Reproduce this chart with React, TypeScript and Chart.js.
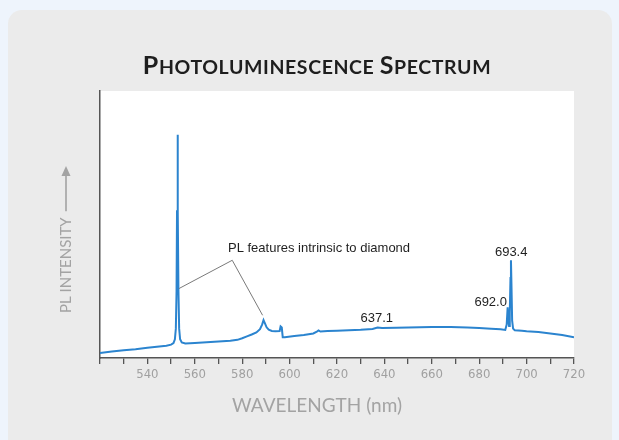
import React, { useEffect, useRef } from "react";
import { Chart, registerables } from "chart.js";

Chart.register(...registerables);

// ---- data ----
const wavelengths = [
  520, 525, 530, 535, 540, 545, 548, 550, 551, 551.6, 552.0, 552.3, 552.5, 552.7, 552.9, 553.1, 553.4,
  553.8, 554.5, 556, 560, 565, 570, 575, 578, 580, 582, 584, 586, 587.5, 588.4, 589, 589.6, 590.3,
  591.2, 592.5, 594, 595.8, 596.2, 596.7, 597.1, 598, 602, 606, 610, 611.5, 612.2, 613, 616, 620,
  625, 630, 635, 637.1, 639, 645, 650, 660, 668, 675, 680, 685, 689, 691.0, 691.6, 692.0, 692.35,
  692.6, 692.9, 693.2, 693.4, 693.6, 693.9, 694.3, 695, 698, 700, 705, 710, 715, 720,
];
const intensities = [
  1.9, 2.4, 2.9, 3.3, 3.8, 4.3, 4.6, 5.0, 5.6, 7.0, 11, 25, 55, 83.6, 55, 25, 11,
  7.0, 5.8, 5.4, 5.6, 5.9, 6.2, 6.5, 6.8, 7.4, 8.1, 8.8, 9.6, 10.8, 12.5, 14.2, 13.0, 11.5,
  10.6, 10.1, 10.0, 10.1, 11.8, 11.4, 7.8, 7.8, 8.2, 8.6, 9.2, 9.9, 10.3, 9.9, 10.1, 10.2,
  10.4, 10.6, 10.9, 11.4, 11.2, 11.3, 11.4, 11.6, 11.6, 11.4, 11.2, 11.0, 10.8, 10.5, 12.5, 19.0, 14,
  12, 17, 30, 36.6, 28, 14, 11.0, 10.4, 10.2, 10.0, 9.7, 9.2, 8.6, 7.8,
];

const xMin = 520;
const xMax = 720;
const xStep = 10;
const xLabelStep = 20;
const yMin = 0;
const yMax = 100;

const titleText = "Photoluminescence Spectrum";
const xTitle = "WAVELENGTH (nm)";
const yTitle = "PL INTENSITY";
const featureText = "PL features intrinsic to diamond";
// leader line vertices in data units (wavelength, intensity)
const leaderX = [553.3, 575.8, 588.6];
const leaderY = [26, 36.6, 16];
const featureAnchor = [574.0, 41];
const peakNames = ["637.1", "692.0", "693.4"];
const peakLabelX = [636.8, 691.7, 693.5];
const peakLabelY = [15, 21, 39.6];
const peakAlign: CanvasTextAlign[] = ["center", "right", "center"];

function drawSmallCaps(ctx: CanvasRenderingContext2D, text: string, cx: number, baseline: number, big: number, small: number, family: string, spacing: number) {
  const parts: { t: string; f: string }[] = [];
  text.split(" ").forEach((word, i, arr) => {
    parts.push({ t: word[0].toUpperCase(), f: `bold ${big}px ${family}` });
    const rest = word.slice(1).toUpperCase() + (i < arr.length - 1 ? " " : "");
    parts.push({ t: rest, f: `bold ${small}px ${family}` });
  });
  (ctx as any).letterSpacing = `${spacing}px`;
  let total = 0;
  parts.forEach((p) => {
    ctx.font = p.f;
    total += ctx.measureText(p.t).width;
  });
  let x = cx - total / 2;
  ctx.textAlign = "left";
  ctx.textBaseline = "alphabetic";
  parts.forEach((p) => {
    ctx.font = p.f;
    ctx.fillText(p.t, x, baseline);
    x += ctx.measureText(p.t).width;
  });
  (ctx as any).letterSpacing = "0px";
}

const decorPlugin = {
  id: "decor",
  beforeDraw(chart: any) {
    const { ctx, chartArea } = chart;
    ctx.save();
    ctx.fillStyle = "#ffffff";
    ctx.fillRect(chartArea.left, chartArea.top, chartArea.right - chartArea.left, chartArea.bottom - chartArea.top);
    ctx.restore();
  },
  afterDraw(chart: any) {
    const { ctx, scales } = chart;
    const xs = scales.x;
    const ys = scales.y;
    ctx.save();
    // title
    ctx.fillStyle = "#1e1e1e";
    drawSmallCaps(ctx, titleText, 317, 74, 25, 19.5, "Lato, 'DejaVu Sans', sans-serif", 0.6);

    // x axis title
    ctx.fillStyle = "#a3a3a3";
    ctx.font = "19px Lato, sans-serif";
    ctx.textAlign = "center";
    ctx.textBaseline = "middle";
    ctx.fillText(xTitle, 317, 406);

    // y axis title with arrow
    ctx.save();
    ctx.translate(66, 313);
    ctx.rotate(-Math.PI / 2);
    ctx.font = "15px Lato, sans-serif";
    ctx.textAlign = "left";
    ctx.textBaseline = "middle";
    ctx.fillText(yTitle, 0, 0);
    const w = ctx.measureText(yTitle).width;
    ctx.strokeStyle = "#a3a3a3";
    ctx.lineWidth = 1.6;
    ctx.beginPath();
    ctx.moveTo(w + 6, 0);
    ctx.lineTo(142, 0);
    ctx.stroke();
    ctx.beginPath();
    ctx.moveTo(147, 0);
    ctx.lineTo(137, -4.5);
    ctx.lineTo(137, 4.5);
    ctx.closePath();
    ctx.fillStyle = "#a3a3a3";
    ctx.fill();
    ctx.restore();

    // leader lines
    ctx.strokeStyle = "#7a7a7a";
    ctx.lineWidth = 1;
    ctx.beginPath();
    leaderX.forEach((lx, i) => {
      const px = xs.getPixelForValue(lx);
      const py = ys.getPixelForValue(leaderY[i]);
      if (i === 0) ctx.moveTo(px, py);
      else ctx.lineTo(px, py);
    });
    ctx.stroke();

    ctx.fillStyle = "#1f1f1f";
    ctx.font = "13px 'Liberation Sans', Arial, sans-serif";
    ctx.textAlign = "left";
    ctx.textBaseline = "middle";
    ctx.fillText(featureText, xs.getPixelForValue(featureAnchor[0]), ys.getPixelForValue(featureAnchor[1]));

    peakNames.forEach((n, i) => {
      ctx.textAlign = peakAlign[i];
      ctx.fillText(n, xs.getPixelForValue(peakLabelX[i]), ys.getPixelForValue(peakLabelY[i]));
    });
    ctx.restore();
  },
};

export default function App() {
  const ref = useRef<HTMLCanvasElement>(null);
  useEffect(() => {
    document.body.style.margin = "0";
    const canvas = ref.current!;
    const chart = new Chart(canvas, {
      type: "line",
      data: {
        datasets: [
          {
            data: wavelengths.map((w, i) => ({ x: w, y: intensities[i] })),
            borderColor: "#2b84cf",
            borderWidth: 2,
            pointRadius: 0,
            tension: 0,
            fill: false,
          },
        ],
      },
      options: {
        responsive: false,
        animation: false,
        events: [],
        layout: { padding: { left: 100, top: 91, right: 45, bottom: 0 } },
        plugins: { legend: { display: false }, tooltip: { enabled: false }, title: { display: false } },
        scales: {
          x: {
            type: "linear",
            min: xMin,
            max: xMax,
            afterFit: (s: any) => {
              s.height = 82;
            },
            ticks: {
              stepSize: xStep,
              autoSkip: false,
              maxRotation: 0,
              padding: 3,
              color: "#a0a0a0",
              font: { family: "'Liberation Sans Narrow', 'Arial Narrow', 'DejaVu Sans Condensed', sans-serif", size: 13 },
              callback: (v: any) => (v % xLabelStep === 0 && v > xMin ? String(v) : ""),
            },
            grid: { drawOnChartArea: false, drawTicks: true, tickLength: 6, color: "#555555", lineWidth: 1.3 },
            border: { display: true, color: "#555555", width: 1.5 },
          },
          y: {
            min: yMin,
            max: yMax,
            afterFit: (s: any) => {
              s.width = 0;
            },
            ticks: { display: false },
            grid: { display: false },
            border: { display: true, color: "#555555", width: 1.5 },
          },
        },
      },
      plugins: [decorPlugin],
    });
    return () => chart.destroy();
  }, []);
  return (
    <div style={{ position: "relative", width: 619, height: 440, background: "#eef4fc", overflow: "hidden" }}>
      <div
        style={{
          position: "absolute",
          left: 8,
          top: 10,
          width: 604,
          height: 470,
          background: "#ebebeb",
          borderRadius: 14,
        }}
      />
      <canvas ref={ref} width={619} height={440} style={{ position: "absolute", left: 0, top: 0, width: 619, height: 440 }} />
    </div>
  );
}
